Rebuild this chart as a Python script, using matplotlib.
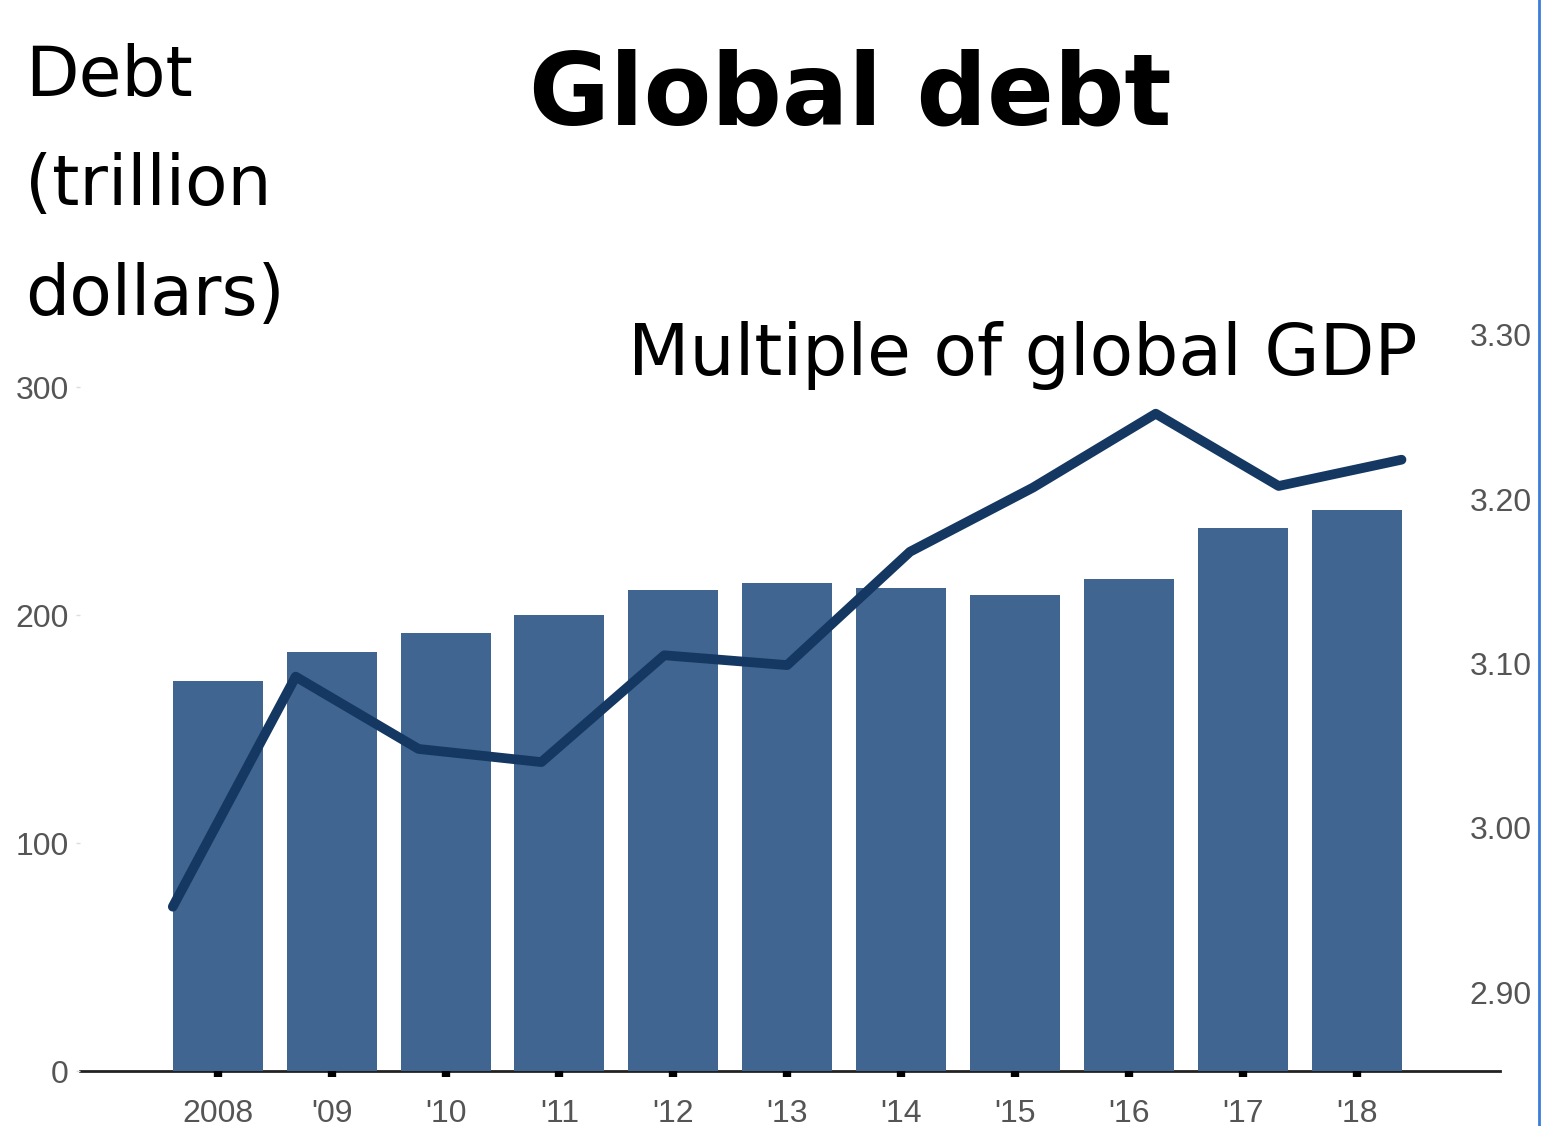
import numpy as np
import matplotlib.pyplot as plt
from matplotlib.lines import Line2D

########## DATA ########
years = ["2008", "'09", "'10", "'11", "'12", "'13", "'14", "'15", "'16", "'17", "'18"]
debt = [171, 184, 192, 200, 211, 214, 212, 209, 216, 238, 246]  # trillion dollars
gdp_multiple = [2.952, 3.092, 3.048, 3.040, 3.105, 3.099, 3.168, 3.207, 3.252, 3.208, 3.224]
left_ticks = [0, 100, 200, 300]
right_ticks = [2.90, 3.00, 3.10, 3.20, 3.30]
###### END DATA ########

bar_color = "#3f6590"
line_color = "#143861"
tick_grey = "#555555"
tick_font = ["Liberation Sans", "DejaVu Sans"]

fig = plt.figure(figsize=(15.41, 11.26), dpi=100)
ax = fig.add_axes([0.0519, 0.0488, 0.9215, 0.667])

x = np.arange(len(years))
width = 0.79
ax.bar(x, debt, width=width, color=bar_color, zorder=2)
ax.set_xlim(-1.21, 11.26)
ax.set_ylim(0, 329.4)

for side in ["top", "right", "left"]:
    ax.spines[side].set_visible(False)
ax.spines["bottom"].set_color("#222222")
ax.spines["bottom"].set_linewidth(2)
ax.spines["bottom"].set_zorder(1)

ax.set_xticks(x)
ax.set_xticklabels(years, family=tick_font, fontsize=23, color=tick_grey)
ax.tick_params(axis="x", length=4, width=6, color="black", pad=16)
ax.set_yticks(left_ticks)
ax.set_yticklabels([str(t) for t in left_ticks], family=tick_font, fontsize=23, color=tick_grey)
ax.tick_params(axis="y", length=3, width=1, color="#dddddd", pad=5)

# line runs from left edge of first bar to right edge of last bar
ax2 = ax.twinx()
x_line = np.linspace(-width / 2, len(years) - 1 + width / 2, len(years))
ax2.plot(x_line, gdp_multiple, color=line_color, linewidth=7, solid_joinstyle="round",
         solid_capstyle="round", zorder=3)
ax2.set_ylim(2.852, 3.309)
for side in ["top", "right", "left", "bottom"]:
    ax2.spines[side].set_visible(False)
ax2.set_yticks(right_ticks)
ax2.set_yticklabels(["%.2f" % t for t in right_ticks], family=tick_font, fontsize=23, color=tick_grey)
ax2.tick_params(axis="y", length=0, pad=-22)

fig.text(0.5516, 0.889, "Global debt", fontsize=71, fontweight="bold", ha="center", va="baseline")
fig.text(0.0162, 0.962, "Debt\n(trillion\ndollars)", fontsize=50, ha="left", va="top", linespacing=1.8)
fig.text(0.4075, 0.667, "Multiple of global GDP", fontsize=51.3, ha="left", va="baseline")

fig.add_artist(Line2D([0.9985, 0.9985], [0, 1], transform=fig.transFigure, color="#3b7dd8", linewidth=2))

plt.savefig("out.png", dpi=100)
